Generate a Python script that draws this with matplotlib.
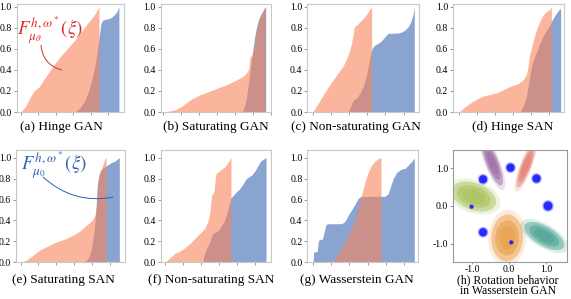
import numpy as np
import matplotlib.pyplot as plt
from matplotlib.patches import Ellipse, Circle

plt.rcParams['font.family'] = 'serif'
plt.rcParams['font.serif'] = ['Liberation Serif', 'DejaVu Serif']
plt.rcParams['mathtext.fontset'] = 'stix'
plt.rcParams['axes.unicode_minus'] = False

ORANGE = '#f9845c'
BLUE = '#3c68b4'
ALPHA = 0.6

# (a) Hinge GAN
a_or_x = [0.037, 0.08, 0.12, 0.16, 0.21, 0.24, 0.28, 0.34, 0.40, 0.46, 0.53, 0.59, 0.65, 0.72, 0.765]
a_or_y = [0.0, 0.05, 0.13, 0.20, 0.24, 0.29, 0.35, 0.44, 0.52, 0.59, 0.67, 0.75, 0.83, 0.92, 1.0]
a_bl_x = [0.542, 0.588, 0.635, 0.665, 0.697, 0.728, 0.75, 0.768, 0.783, 0.798, 0.82, 0.851, 0.882, 0.913, 0.935, 0.95]
a_bl_y = [0.0, 0.04, 0.11, 0.19, 0.30, 0.44, 0.59, 0.73, 0.84, 0.87, 0.88, 0.885, 0.90, 0.93, 0.96, 1.0]

# (b) Saturating GAN
b_or_x = [0.018, 0.10, 0.145, 0.19, 0.236, 0.281, 0.326, 0.356, 0.417, 0.477, 0.538, 0.598, 0.659, 0.719,
          0.764, 0.795, 0.804, 0.81, 0.825, 0.84, 0.855, 0.87, 0.894, 0.915, 0.93, 0.946]
b_or_y = [0.0, 0.013, 0.028, 0.054, 0.091, 0.123, 0.148, 0.164, 0.186, 0.211, 0.237, 0.259, 0.29, 0.322,
          0.353, 0.40, 0.464, 0.527, 0.533, 0.59, 0.685, 0.78, 0.89, 0.937, 0.968, 1.0]
b_bl_x = [0.734, 0.749, 0.764, 0.779, 0.795, 0.81, 0.825, 0.84, 0.855, 0.87, 0.885, 0.906, 0.931, 0.952]
b_bl_y = [0.0, 0.023, 0.07, 0.148, 0.259, 0.385, 0.511, 0.621, 0.732, 0.811, 0.874, 0.921, 0.968, 1.0]

# (c) Non-saturating GAN
c_or_x = [0.048, 0.099, 0.143, 0.188, 0.233, 0.278, 0.322, 0.367, 0.397, 0.421, 0.442, 0.472, 0.516, 0.546, 0.576]
c_or_y = [0.0, 0.085, 0.164, 0.237, 0.306, 0.375, 0.438, 0.543, 0.653, 0.811, 0.826, 0.858, 0.905, 0.953, 1.0]
c_bl_x = [0.367, 0.382, 0.412, 0.442, 0.472, 0.501, 0.531, 0.561, 0.582, 0.606, 0.636, 0.666, 0.696, 0.725,
          0.755, 0.815, 0.845, 0.875, 0.904, 0.928, 0.949, 0.958]
c_bl_y = [0.0, 0.038, 0.117, 0.132, 0.18, 0.243, 0.353, 0.527, 0.606, 0.637, 0.653, 0.678, 0.716, 0.748,
          0.748, 0.751, 0.76, 0.779, 0.811, 0.858, 0.937, 1.0]

# (d) Hinge SAN
d_or_x = [0.054, 0.105, 0.165, 0.225, 0.285, 0.345, 0.405, 0.465, 0.526, 0.586, 0.631, 0.661, 0.676, 0.691,
          0.721, 0.751, 0.781, 0.811, 0.841, 0.871, 0.886]
d_or_y = [0.0, 0.047, 0.091, 0.129, 0.155, 0.170, 0.186, 0.218, 0.249, 0.268, 0.306, 0.353, 0.432, 0.543,
          0.669, 0.779, 0.858, 0.921, 0.953, 0.975, 1.0]
d_bl_x = [0.601, 0.631, 0.661, 0.682, 0.706, 0.736, 0.766, 0.796, 0.826, 0.856, 0.880, 0.901, 0.931, 0.952, 0.970]
d_bl_y = [0.0, 0.054, 0.148, 0.274, 0.432, 0.527, 0.606, 0.685, 0.748, 0.795, 0.842, 0.890, 0.937, 0.968, 0.984]

# (e) Saturating SAN
e_or_x = [0.043, 0.098, 0.159, 0.22, 0.281, 0.343, 0.404, 0.465, 0.526, 0.587, 0.648, 0.694, 0.725, 0.74,
          0.746, 0.755, 0.771, 0.786, 0.801, 0.817, 0.826]
e_or_y = [0.0, 0.022, 0.07, 0.118, 0.15, 0.182, 0.207, 0.229, 0.261, 0.299, 0.357, 0.395, 0.452, 0.548,
          0.707, 0.803, 0.866, 0.898, 0.946, 0.994, 1.0]
e_bl_x = [0.624, 0.664, 0.694, 0.719, 0.734, 0.746, 0.765, 0.786, 0.817, 0.847, 0.878, 0.908, 0.93, 0.948]
e_bl_y = [0.0, 0.038, 0.134, 0.325, 0.516, 0.739, 0.85, 0.892, 0.914, 0.936, 0.955, 0.968, 0.987, 1.0]

# (f) Non-saturating SAN
f_or_x = [0.039, 0.085, 0.13, 0.175, 0.221, 0.266, 0.311, 0.356, 0.402, 0.432, 0.447, 0.462, 0.483, 0.492,
          0.502, 0.523, 0.553, 0.583, 0.604, 0.628, 0.637]
f_or_y = [0.0, 0.045, 0.086, 0.108, 0.14, 0.182, 0.229, 0.277, 0.325, 0.404, 0.484, 0.643, 0.675, 0.771,
          0.85, 0.866, 0.892, 0.914, 0.946, 0.987, 1.0]
f_bl_x = [0.381, 0.393, 0.417, 0.447, 0.471, 0.508, 0.538, 0.574, 0.604, 0.634, 0.659, 0.689, 0.719, 0.749,
          0.779, 0.825, 0.855, 0.885, 0.906, 0.931, 0.955]
f_bl_y = [0.0, 0.07, 0.134, 0.197, 0.277, 0.293, 0.325, 0.389, 0.484, 0.611, 0.643, 0.675, 0.707, 0.755,
          0.803, 0.834, 0.873, 0.93, 0.968, 0.987, 1.0]

# (g) Wasserstein GAN
g_or_x = [0.219, 0.264, 0.309, 0.354, 0.399, 0.429, 0.459, 0.489, 0.52, 0.55, 0.58, 0.61, 0.64, 0.664]
g_or_y = [0.0, 0.054, 0.134, 0.229, 0.325, 0.404, 0.516, 0.643, 0.771, 0.866, 0.93, 0.968, 0.994, 1.0]
g_bl_x = [0.054, 0.056, 0.078, 0.09, 0.099, 0.108, 0.135, 0.153, 0.168, 0.18, 0.309, 0.339, 0.369, 0.399,
          0.429, 0.459, 0.483, 0.70, 0.73, 0.754, 0.775, 0.805, 0.85, 0.88, 0.91, 0.94, 0.964]
g_bl_y = [0.0, 0.096, 0.102, 0.108, 0.197, 0.22, 0.22, 0.293, 0.357, 0.369, 0.369, 0.389, 0.452, 0.5,
          0.554, 0.611, 0.631, 0.631, 0.659, 0.739, 0.803, 0.86, 0.892, 0.898, 0.93, 0.962, 1.0]

panels = [
    (a_or_x, a_or_y, a_bl_x, a_bl_y),
    (b_or_x, b_or_y, b_bl_x, b_bl_y),
    (c_or_x, c_or_y, c_bl_x, c_bl_y),
    (d_or_x, d_or_y, d_bl_x, d_bl_y),
    (e_or_x, e_or_y, e_bl_x, e_bl_y),
    (f_or_x, f_or_y, f_bl_x, f_bl_y),
    (g_or_x, g_or_y, g_bl_x, g_bl_y),
]

captions = ['(a) Hinge GAN', '(b) Saturating GAN', '(c) Non-saturating GAN', '(d) Hinge SAN',
            '(e) Saturating SAN', '(f) Non-saturating SAN', '(g) Wasserstein GAN',
            '(h) Rotation behavior\nin Wasserstein GAN']

# (h) generated modes and target modes
mode_x = [-0.45, 0.45, -0.95, -0.05, 0.95]
mode_y = [1.15, 1.05, 0.25, -0.85, -0.8]
mode_w = [1.3, 1.2, 1.25, 0.85, 1.2]
mode_h = [0.34, 0.27, 0.72, 1.25, 0.52]
mode_angle = [-68, 69, -20, -3, -30]
mode_color = ['#9f6fa5', '#e57f74', '#a9c35c', '#eba04b', '#4ea595']
target_x = [1.05, 0.74, 0.04, -0.70, -0.70, -1.01, 0.06]
target_y = [0.0, 0.73, 1.02, 0.71, -0.70, -0.02, -0.97]
target_r = [0.12, 0.11, 0.11, 0.11, 0.11, 0.05, 0.05]

W, H = 571, 299
top_row = [(16.7, 107.6), (160.7, 110.3), (307.3, 111.7), (453.0, 111.0)]
bot_row = [(16.0, 109.0), (160.7, 110.3), (307.3, 111.0)]

fig = plt.figure(figsize=(W / 100, H / 100), dpi=100)


def style_axes(ax):
    for s in ax.spines.values():
        s.set_color('#c8c8c8')
        s.set_linewidth(0.8)
    ax.tick_params(labelsize=7, length=2, width=0.6, color='#888888', pad=1.5)


axes = []
for x0, w in top_row:
    axes.append(fig.add_axes([x0 / W, (H - 112) / H, w / W, 107.7 / H]))
for x0, w in bot_row:
    axes.append(fig.add_axes([x0 / W, (H - 262.3) / H, w / W, 112.3 / H]))

for i, (ox, oy, bx, by) in enumerate(panels):
    ax = axes[i]
    ax.fill_between(bx, by, 0, color=BLUE, alpha=ALPHA, lw=0)
    ax.fill_between(ox, oy, 0, color=ORANGE, alpha=ALPHA, lw=0)
    ax.set_xlim(0, 1)
    ax.set_ylim(0, 1.023 if i < 4 else 1.074)
    ax.set_yticks([0, 0.2, 0.4, 0.6, 0.8, 1.0])
    ax.set_yticklabels(['0.0', '0.2', '0.4', '0.6', '0.8', '1.0'])
    start = min(ox[0], bx[0])
    ax.set_xticks(np.arange(start, 1.0, 0.163))
    ax.set_xticklabels([])
    style_axes(ax)

# formula annotations
red = '#dc2b2b'
axes[0].text(0.31, 0.76, r'$F^{h,\omega^*}_{\mu_\theta}(\xi)$', transform=axes[0].transAxes,
             color=red, fontsize=13.5, ha='center', va='center')
axes[0].annotate('', xy=(0.42, 0.39), xytext=(0.226, 0.62), xycoords='axes fraction',
                 arrowprops=dict(arrowstyle='-', color=red, lw=0.7, shrinkA=0, shrinkB=0,
                                 connectionstyle='arc3,rad=0.35'))
blue = '#2f5fb3'
axes[4].text(0.35, 0.866, r'$F^{h,\omega^*}_{\mu_0}(\xi)$', transform=axes[4].transAxes,
             color=blue, fontsize=13.5, ha='center', va='center')
axes[4].annotate('', xy=(0.89, 0.58), xytext=(0.248, 0.76), xycoords='axes fraction',
                 arrowprops=dict(arrowstyle='-', color=blue, lw=0.7, shrinkA=0, shrinkB=0,
                                 connectionstyle='arc3,rad=0.25'))

# (h) rotation behavior
axh = fig.add_axes([453.0 / W, (H - 262.3) / H, 114.3 / W, 112.3 / H])
for x, y, w, h, ang, col in zip(mode_x, mode_y, mode_w, mode_h, mode_angle, mode_color):
    for scale, a in [(1.2, 0.2), (1.0, 0.5), (0.75, 0.6), (0.5, 0.6)]:
        axh.add_patch(Ellipse((x, y), w * scale, h * scale, angle=ang, color=col, alpha=a, lw=0))
for x, y, r in zip(target_x, target_y, target_r):
    axh.add_patch(Circle((x, y), r * 1.3, color='#1a1aff', alpha=0.35, lw=0))
    axh.add_patch(Circle((x, y), r, color='#1a1aff', alpha=0.9, lw=0))
axh.set_xlim(-1.51, 1.57)
axh.set_ylim(-1.5, 1.49)
axh.set_xticks([-1, 0, 1])
axh.set_xticklabels(['-1.0', '0.0', '1.0'])
axh.set_yticks([-1, 0, 1])
axh.set_yticklabels(['-1.0', '0.0', '1.0'])
style_axes(axh)
axh.tick_params(axis='x', length=1.5, pad=0.5)
for s in axh.spines.values():
    s.set_color('#999999')

cap_x = [61, 215.5, 356, 513, 63.5, 211, 357, 508]
cap_y = [126.7] * 4 + [279.5] * 3 + [274.5]
for i, (t, x, y) in enumerate(zip(captions, cap_x, cap_y)):
    if i < 7:
        fig.text(x / W, (H - y) / H, t, fontsize=9.5, ha='center', va='center')
    else:
        fig.text(x / W, (H - y) / H, t, fontsize=8.5, ha='center', va='top', linespacing=0.85)

fig.savefig('out.png', dpi=100)
